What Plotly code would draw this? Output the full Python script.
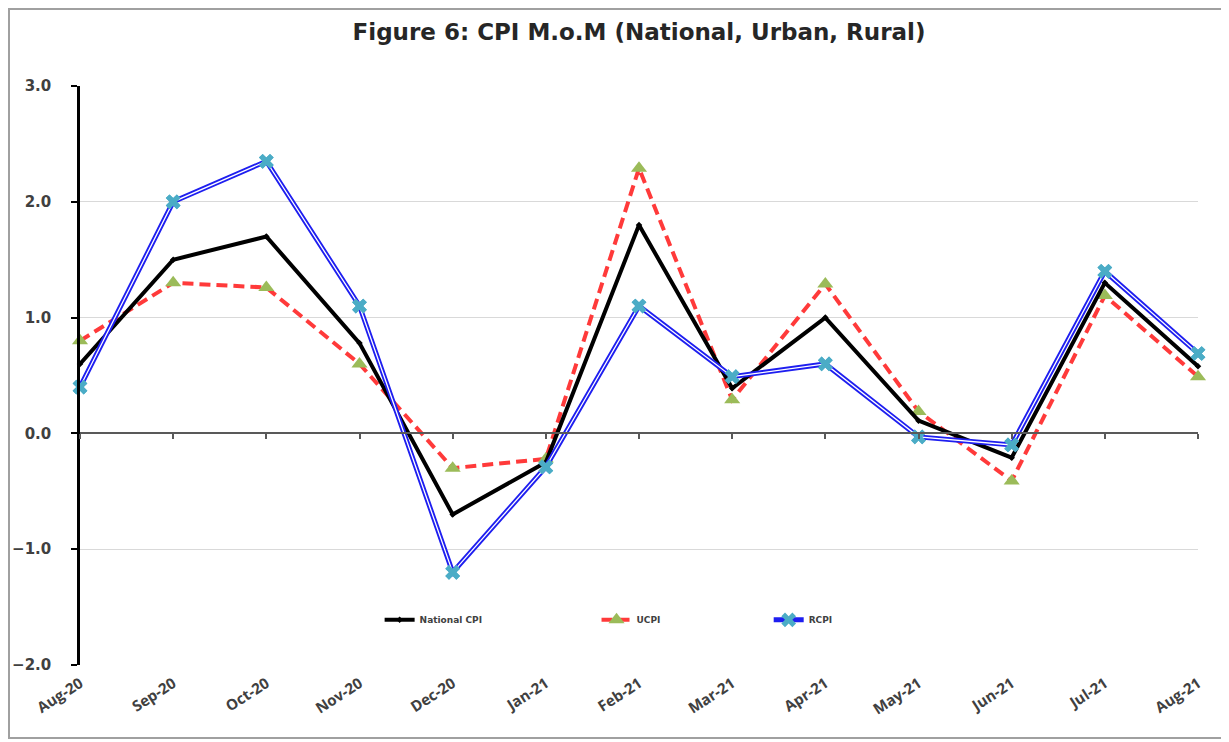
import plotly.graph_objects as go

months = ["Aug-20", "Sep-20", "Oct-20", "Nov-20", "Dec-20", "Jan-21", "Feb-21",
          "Mar-21", "Apr-21", "May-21", "Jun-21", "Jul-21", "Aug-21"]
national_cpi = [0.6, 1.5, 1.7, 0.78, -0.7, -0.25, 1.8, 0.39, 1.0, 0.11, -0.21, 1.3, 0.58]
ucpi = [0.8, 1.3, 1.26, 0.6, -0.3, -0.22, 2.29, 0.29, 1.29, 0.19, -0.41, 1.19, 0.49]
rcpi = [0.4, 2.0, 2.35, 1.1, -1.2, -0.29, 1.1, 0.49, 0.6, -0.03, -0.1, 1.4, 0.69]
y_ticks = [3.0, 2.0, 1.0, 0.0, -1.0, -2.0]

WIDE = "'DejaVu Sans', Verdana, sans-serif"
OPEN = "'Open Sans', sans-serif"

fig = go.Figure()

fig.add_trace(go.Scatter(
    x=months, y=ucpi, name="UCPI", mode="lines+markers", cliponaxis=False,
    line=dict(color="#FF3A3A", width=4, dash="11px,6px"),
    marker=dict(symbol="triangle-up", size=14, color="#9BBB59"),
    legend="legend2"))

fig.add_trace(go.Scatter(
    x=months, y=national_cpi, name="National CPI", mode="lines+markers", cliponaxis=False,
    line=dict(color="#000000", width=4),
    marker=dict(symbol="diamond", size=5, color="#000000"),
    legend="legend"))

fig.add_trace(go.Scatter(
    x=months, y=rcpi, name="RCPI", mode="lines+markers", cliponaxis=False,
    line=dict(color="#1E1EF0", width=5),
    marker=dict(symbol="x", size=13, color="#4BACC6", line=dict(width=0)),
    legend="legend3"))

fig.add_trace(go.Scatter(
    x=months, y=rcpi, mode="lines", cliponaxis=False, showlegend=False,
    line=dict(color="#FFFFFF", width=1.3), hoverinfo="skip"))

fig.add_trace(go.Scatter(
    x=months, y=rcpi, mode="markers", cliponaxis=False, showlegend=False,
    marker=dict(symbol="x", size=13, color="#4BACC6", line=dict(width=0)),
    hoverinfo="skip"))

# invisible trace to carry the axis drawn through zero
fig.add_trace(go.Scatter(x=months, y=rcpi, xaxis="x2", mode="lines",
                         line=dict(width=0), opacity=0, showlegend=False, hoverinfo="skip"))

legend_font = dict(family=WIDE, size=9, color="#404040", weight="bold")

fig.update_layout(
    width=1229, height=742,
    margin=dict(l=72, r=39, t=78, b=85, autoexpand=False),
    paper_bgcolor="white", plot_bgcolor="white",
    title=dict(text="<b>Figure 6: CPI M.o.M (National, Urban, Rural)</b>",
               x=0.5, xref="paper", y=0.9677, yanchor="middle",
               font=dict(family=WIDE, size=23, color="#262626")),
    xaxis=dict(type="category", range=[0, 12], showgrid=False, showline=False,
               ticks="", tickangle=-33, zeroline=False, ticklabelstandoff=6,
               tickfont=dict(family=OPEN, size=15, color="#404040", weight="bold")),
    xaxis2=dict(type="category", range=[0, 12], overlaying="x", anchor="free",
                position=0.4, showline=True, linecolor="#595959", linewidth=2,
                ticks="outside", ticklen=5, tickcolor="#595959", tickwidth=1.5,
                showticklabels=False, showgrid=False, zeroline=False),
    yaxis=dict(range=[-2, 3], tickvals=y_ticks, tickformat=".1f",
               showgrid=True, gridcolor="#D9D9D9", gridwidth=1,
               zeroline=False, showline=True, linecolor="#000000", linewidth=2.5,
               ticks="outside", ticklen=6, tickcolor="#000000", tickwidth=2,
               ticklabelstandoff=17,
               tickfont=dict(family=WIDE, size=15, color="#404040", weight="bold")),
    legend=dict(x=0.268, y=0.078, xanchor="left", yanchor="middle", bgcolor="rgba(0,0,0,0)",
                font=legend_font),
    legend2=dict(x=0.462, y=0.078, xanchor="left", yanchor="middle", bgcolor="rgba(0,0,0,0)",
                 font=legend_font),
    legend3=dict(x=0.616, y=0.078, xanchor="left", yanchor="middle", bgcolor="rgba(0,0,0,0)",
                 font=legend_font),
    shapes=[dict(type="rect", xref="paper", yref="paper",
                 x0=-0.0635, x1=1.025, y0=-0.126, y1=1.133,
                 line=dict(color="#A0A0A0", width=2), layer="below")],
    showlegend=True,
)

fig.write_html("out.html")
